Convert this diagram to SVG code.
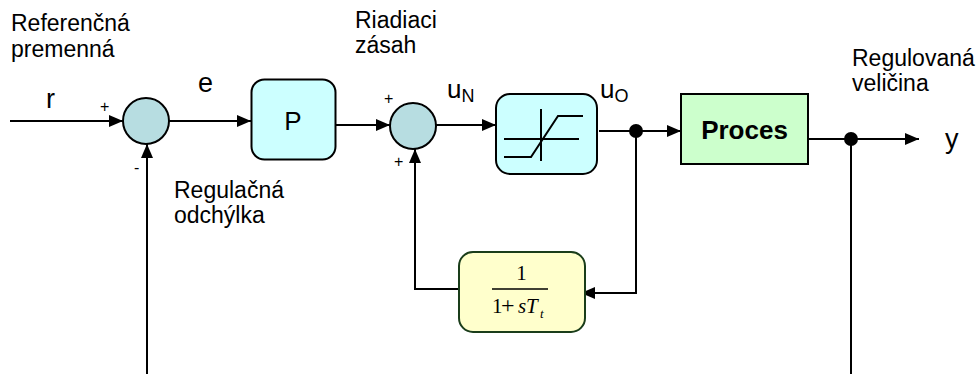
<svg xmlns="http://www.w3.org/2000/svg" width="979" height="374" viewBox="0 0 979 374">
<style>
.lbl{font-family:"Liberation Sans",Arial,sans-serif;font-size:23px;fill:#000}
.big{font-family:"Liberation Sans",Arial,sans-serif;font-size:27px;fill:#000}
.u{font-family:"Liberation Sans",Arial,sans-serif;font-size:26px;fill:#000}
.sm{font-family:"Liberation Sans",Arial,sans-serif;font-size:16px;fill:#000}
.sub{font-family:"Liberation Sans",Arial,sans-serif;font-size:18px;fill:#000}
.wire{fill:none;stroke:#000;stroke-width:2}
.sum{fill:#b7dde1;stroke:#000;stroke-width:2}
.blk{fill:#ccffff;stroke:#000;stroke-width:2}
.math{font-family:"Liberation Serif","Times New Roman",serif;font-size:21px;fill:#000}
</style>
<defs>
<marker id="ah" markerWidth="14" markerHeight="12" refX="14" refY="6" orient="auto" markerUnits="userSpaceOnUse">
<path d="M0,0 L14,6 L0,12 Z" fill="#000"/>
</marker>
</defs>

<g id="labels">
<text class="lbl" x="11" y="31">Referenčná</text>
<text class="lbl" x="11" y="57">premenná</text>
<text class="lbl" x="355" y="28">Riadiaci</text>
<text class="lbl" x="355" y="53">zásah</text>
<text class="lbl" x="852" y="66">Regulovaná</text>
<text class="lbl" x="852" y="91">veličina</text>
<text class="lbl" x="174" y="198">Regulačná</text>
<text class="lbl" x="174" y="223">odchýlka</text>
<text class="big" x="46" y="108">r</text>
<text class="big" x="198" y="92">e</text>
<text class="big" x="945" y="148">y</text>
<text class="u" x="447" y="98">u<tspan class="sub" dy="4">N</tspan></text>
<text class="u" x="600" y="98">u<tspan class="sub" dy="4">O</tspan></text>
<text class="sm" x="100" y="112">+</text>
<text class="sm" x="134" y="173">-</text>
<text class="sm" x="384" y="104">+</text>
<text class="sm" x="394" y="167">+</text>
</g>

<g id="connectors">
<line class="wire" x1="10" y1="121" x2="123" y2="121" marker-end="url(#ah)"/>
<line class="wire" x1="169" y1="121" x2="251" y2="121" marker-end="url(#ah)"/>
<line class="wire" x1="336" y1="125" x2="390" y2="125" marker-end="url(#ah)"/>
<line class="wire" x1="436" y1="125" x2="496" y2="125" marker-end="url(#ah)"/>
<line class="wire" x1="599" y1="131" x2="681" y2="131" marker-end="url(#ah)"/>
<line class="wire" x1="808" y1="139" x2="919" y2="139" marker-end="url(#ah)"/>
<polyline class="wire" points="636,131 636,293 581,293" marker-end="url(#ah)"/>
<polyline class="wire" points="459,289 415,289 415,149" marker-end="url(#ah)"/>
<line class="wire" x1="147" y1="374" x2="147" y2="144" marker-end="url(#ah)"/>
<line class="wire" x1="851" y1="139" x2="851" y2="374"/>
<circle cx="636" cy="131" r="7" fill="#000"/>
<circle cx="851" cy="139" r="7" fill="#000"/>
</g>

<g id="sum1"><circle class="sum" cx="146" cy="121" r="23"/></g>
<g id="sum2"><circle class="sum" cx="413" cy="126" r="23"/></g>

<g id="P">
<rect class="blk" x="251.5" y="79.5" width="84" height="80" rx="13"/>
<text x="293" y="130" text-anchor="middle" style="font-family:'Liberation Sans',Arial,sans-serif;font-size:26px">P</text>
</g>

<g id="saturation">
<rect class="blk" x="496" y="94" width="101" height="80" rx="14"/>
<line class="wire" x1="541" y1="109" x2="541" y2="161"/>
<line class="wire" x1="504" y1="139" x2="579" y2="139"/>
<polyline class="wire" points="504,157 531,157 558,116 583,116"/>
</g>

<g id="proces">
<rect x="681" y="94" width="127" height="70" fill="#ccffcc" stroke="#000" stroke-width="2"/>
<text x="744.5" y="139" text-anchor="middle" style="font-family:'Liberation Sans',Arial,sans-serif;font-size:26px;font-weight:bold">Proces</text>
</g>

<g id="filter">
<rect x="459" y="252" width="126" height="80" rx="14" fill="#ffffcc" stroke="#1a3d1a" stroke-width="2"/>
<text class="math" x="521.5" y="280" text-anchor="middle">1</text>
<line x1="492" y1="289" x2="548" y2="289" stroke="#000" stroke-width="1.5"/>
<text class="math" y="313"><tspan x="492">1</tspan><tspan x="501" font-size="24">+</tspan><tspan x="518" font-style="italic">s</tspan><tspan x="526" font-style="italic">T</tspan><tspan x="540" dy="5" font-style="italic" font-size="13">t</tspan></text>
</g>
</svg>
